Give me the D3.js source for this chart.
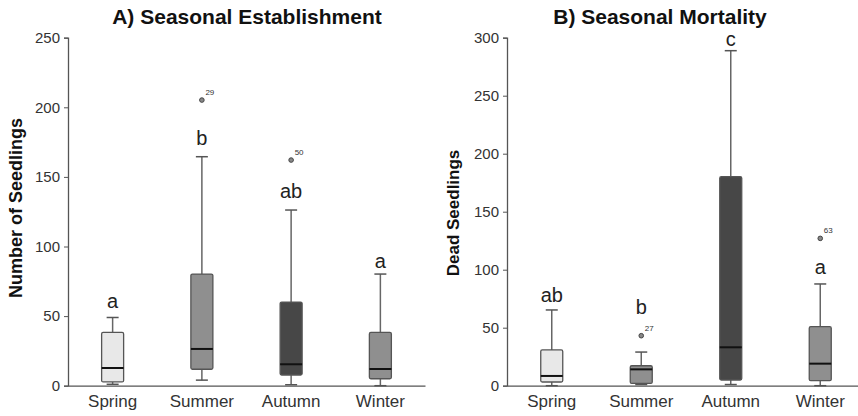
<!DOCTYPE html>
<html lang="en">
<head>
    <meta charset="UTF-8">
    <title>Seasonal Establishment and Mortality</title>
    <script src="https://d3js.org/d3.v7.min.js"></script>
    <style>
        body { margin: 0; background: #fff; }
        svg { font-family: "Liberation Sans", Arial, sans-serif; display: block; }
        .tick text { fill: #333; }
    </style>
</head>
<body>
    <div id="chart"></div>
    <script>
        // 数据
        const seasons = ['Spring', 'Summer', 'Autumn', 'Winter'];
        const boxColors = ['#e8e8e8', '#8f8f8f', '#474747', '#8f8f8f'];

        // 建苗 (min, q1, median, q3, max)
        const estMin = [1, 4, 0.7, 0];
        const estQ1 = [2.7, 11.8, 7.7, 5];
        const estMedian = [12.7, 26.4, 15.4, 12];
        const estQ3 = [38.3, 80.2, 60.1, 38.3];
        const estMax = [49, 164.5, 126.2, 80.2];
        const estLetters = ['a', 'b', 'ab', 'a'];
        const estOutliers = [
            { season: 'Summer', value: 205.2, label: '29' },
            { season: 'Autumn', value: 162.1, label: '50' }
        ];
        const estTicks = [0, 50, 100, 150, 200, 250];

        // 死亡
        const mortMin = [0, 1, 1, 0];
        const mortQ1 = [3.2, 2, 4.9, 4.3];
        const mortMedian = [8.4, 14.1, 33.1, 19];
        const mortQ3 = [30.8, 17.2, 180.2, 50.9];
        const mortMax = [65.3, 29, 288.8, 87.7];
        const mortLetters = ['ab', 'b', 'c', 'a'];
        const mortOutliers = [
            { season: 'Summer', value: 43.1, label: '27' },
            { season: 'Winter', value: 127, label: '63' }
        ];
        const mortTicks = [0, 50, 100, 150, 200, 250, 300];

        const width = 858;
        const height = 416;
        const svg = d3.select('#chart').append('svg')
            .attr('width', width)
            .attr('height', height);

        const drawPanel = (opts) => {
            const g = svg.append('g');
            const x = d3.scaleBand().domain(seasons).range([opts.x0, opts.x1]);
            const y = d3.scaleLinear().domain([0, opts.yMax]).range([385.7, 37.7]);
            const bw = 22;

            // 坐标轴
            const yAxis = g.append('g')
                .attr('transform', `translate(${opts.x0},0)`)
                .call(d3.axisLeft(y).tickValues(opts.ticks).tickSize(4).tickPadding(4));
            yAxis.selectAll('text').style('font-size', '15px');
            yAxis.select('.domain').attr('stroke', '#555').attr('stroke-width', 1.3);
            yAxis.selectAll('.tick line').attr('stroke', '#555');

            const xAxis = g.append('g')
                .attr('transform', `translate(0,${y(0)})`)
                .call(d3.axisBottom(x).tickSize(0).tickPadding(9));
            xAxis.selectAll('text').style('font-size', '17px').attr('fill', '#222');
            xAxis.select('.domain').attr('stroke', '#555').attr('stroke-width', 1.3);

            const data = seasons.map((s, i) => ({
                season: s, min: opts.min[i], q1: opts.q1[i], med: opts.med[i],
                q3: opts.q3[i], max: opts.max[i], color: boxColors[i], letter: opts.letters[i]
            }));

            const cx = d => x(d.season) + x.bandwidth() / 2;

            const box = g.selectAll('.box').data(data).enter().append('g').attr('class', 'box');

            // 须线
            box.append('line')
                .attr('x1', cx).attr('x2', cx)
                .attr('y1', d => y(d.max)).attr('y2', d => y(d.min))
                .attr('stroke', '#666').attr('stroke-width', 1.5);
            box.append('line')
                .attr('x1', d => cx(d) - 6).attr('x2', d => cx(d) + 6)
                .attr('y1', d => y(d.max)).attr('y2', d => y(d.max))
                .attr('stroke', '#555').attr('stroke-width', 1.5);
            box.append('line')
                .attr('x1', d => cx(d) - 6).attr('x2', d => cx(d) + 6)
                .attr('y1', d => y(d.min)).attr('y2', d => y(d.min))
                .attr('stroke', '#555').attr('stroke-width', 1.5);

            // 箱体
            box.append('rect')
                .attr('x', d => cx(d) - bw / 2)
                .attr('y', d => y(d.q3))
                .attr('width', bw)
                .attr('height', d => y(d.q1) - y(d.q3))
                .attr('rx', 1.5)
                .attr('fill', d => d.color)
                .attr('stroke', '#555').attr('stroke-width', 1.3);

            box.append('line')
                .attr('x1', d => cx(d) - bw / 2).attr('x2', d => cx(d) + bw / 2)
                .attr('y1', d => y(d.med)).attr('y2', d => y(d.med))
                .attr('stroke', '#111').attr('stroke-width', 2);

            // 字母
            box.append('text')
                .attr('x', cx)
                .attr('y', (d, i) => y(opts.letterAt[i]))
                .attr('text-anchor', 'middle')
                .attr('dominant-baseline', 'middle')
                .style('font-size', '20px')
                .attr('fill', '#222')
                .text(d => d.letter);

            // 离群值
            const out = g.selectAll('.outlier').data(opts.outliers).enter().append('g');
            out.append('circle')
                .attr('cx', d => x(d.season) + x.bandwidth() / 2)
                .attr('cy', d => y(d.value))
                .attr('r', 2.3)
                .attr('fill', '#888').attr('stroke', '#444').attr('stroke-width', 1);
            out.append('text')
                .attr('x', d => x(d.season) + x.bandwidth() / 2 + 3.5)
                .attr('y', d => y(d.value) - 5)
                .style('font-size', '8px')
                .attr('fill', '#333')
                .text(d => d.label);

            // 标题
            g.append('text')
                .attr('x', opts.titleX).attr('y', 24)
                .attr('text-anchor', 'middle')
                .style('font-size', '21px').style('font-weight', 'bold')
                .attr('fill', '#111')
                .text(opts.title);

            g.append('text')
                .attr('transform', `translate(${opts.labelX},${opts.labelY}) rotate(-90)`)
                .attr('text-anchor', 'middle')
                .style('font-size', opts.labelSize).style('font-weight', 'bold')
                .attr('fill', '#111')
                .text(opts.yLabel);
        };

        drawPanel({
            x0: 68, x1: 425, yMax: 250, ticks: estTicks,
            min: estMin, q1: estQ1, med: estMedian, q3: estQ3, max: estMax,
            letters: estLetters, letterAt: [59.4, 177, 138.4, 88],
            outliers: estOutliers,
            title: 'A) Seasonal Establishment', titleX: 247,
            yLabel: 'Number of Seedlings', labelX: 22, labelY: 208, labelSize: '18px'
        });

        drawPanel({
            x0: 507, x1: 865, yMax: 300, ticks: mortTicks,
            min: mortMin, q1: mortQ1, med: mortMedian, q3: mortQ3, max: mortMax,
            letters: mortLetters, letterAt: [77, 66, 297.5, 101],
            outliers: mortOutliers,
            title: 'B) Seasonal Mortality', titleX: 660,
            yLabel: 'Dead Seedlings', labelX: 459, labelY: 213, labelSize: '17px'
        });
    </script>
</body>
</html>
